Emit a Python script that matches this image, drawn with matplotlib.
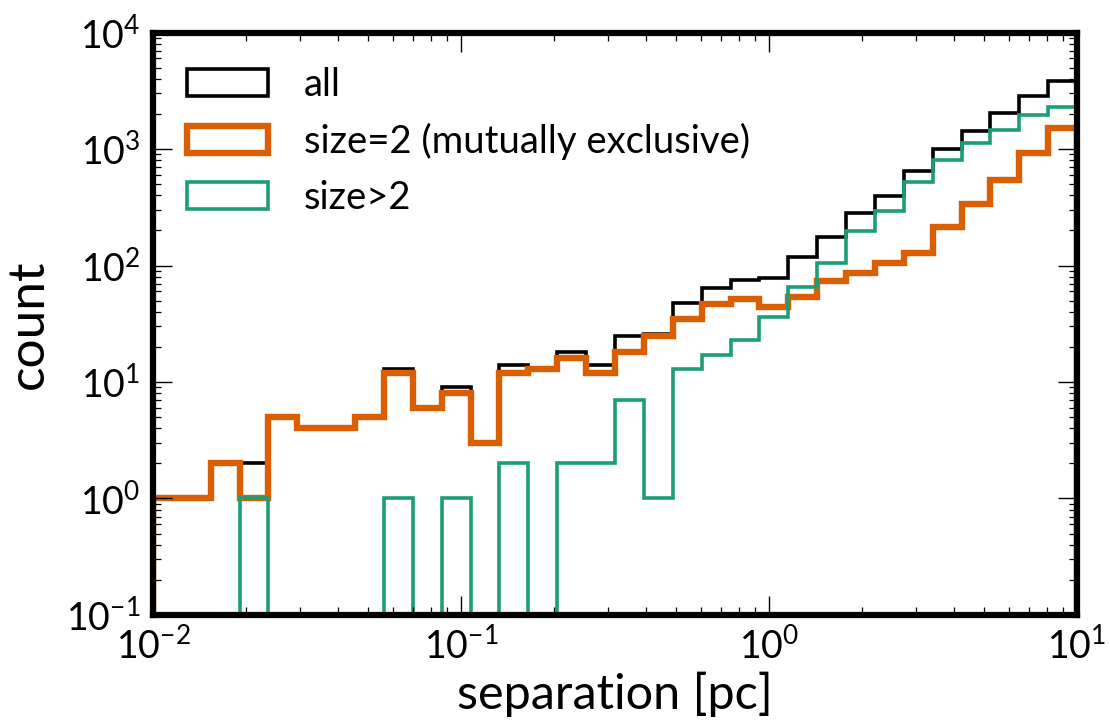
import numpy as np
import matplotlib
matplotlib.use('Agg')
import matplotlib.pyplot as plt
from matplotlib.patches import Patch

plt.rcParams['font.family'] = ['Lato', 'DejaVu Sans']
plt.rcParams['mathtext.fontset'] = 'custom'
plt.rcParams['mathtext.rm'] = 'Lato'
plt.rcParams['mathtext.it'] = 'Lato:italic'
plt.rcParams['mathtext.default'] = 'regular'

# ── Data: counts per log-spaced separation bin (10^-2 .. 10^1 pc, 32 bins) ──
bin_edges = np.logspace(-2, 1, 33)

count_all = [1, 1, 2, 2, 5, 4, 4, 5, 13, 6, 9, 3, 14, 13, 18, 14,
             25, 26, 48, 64, 75, 78, 119, 177, 281, 395, 648, 993,
             1428, 2024, 2850, 3837]
count_pair = [1, 1, 2, 1, 5, 4, 4, 5, 12, 6, 8, 3, 12, 13, 16, 12,
              18, 25, 35, 47, 52, 44, 54, 73, 87, 105, 127, 215,
              335, 542, 930, 1507]
count_multi = [0, 0, 0, 1, 0, 0, 0, 0, 1, 0, 1, 0, 2, 0, 2, 2,
               7, 1, 13, 17, 23, 36, 66, 106, 198, 294, 525, 805,
               1120, 1456, 1958, 2307]

labels = ['all', 'size=2 (mutually exclusive)', 'size>2']
colors = ['black', '#d95f02', '#1b9e77']
widths = [2.6, 4.6, 2.6]

fig = plt.figure(figsize=(11.1, 7.23), dpi=100)
ax = fig.add_axes([0.1378, 0.1494, 0.9703 - 0.1378, 0.955 - 0.1494])

for counts, c, lw in zip([count_all, count_pair, count_multi], colors, widths):
    ax.stairs(counts, bin_edges, baseline=0, color=c, lw=lw)

ax.set_xscale('log')
ax.set_yscale('log')
ax.set_xlim(1e-2, 1e1)
ax.set_ylim(1e-1, 1e4)

for spine in ax.spines.values():
    spine.set_linewidth(4.5)

ax.tick_params(which='major', direction='in', length=13.5, width=1.0,
               top=True, right=True, labelsize=27, pad=9)
ax.tick_params(which='minor', direction='in', length=6, width=0.9,
               top=True, right=True)

ax.set_xlabel('separation [pc]', fontsize=35, labelpad=4)
ax.set_ylabel('count', fontsize=37, labelpad=10)

handles = [Patch(facecolor='none', edgecolor=c, lw=lw) for c, lw in zip(colors, widths)]
ax.legend(handles, labels, loc='upper left', frameon=False, fontsize=27.5,
          handlelength=2.1, handleheight=0.7, handletextpad=0.95,
          labelspacing=0.52, borderaxespad=0.5)

fig.savefig('out.png', dpi=100, facecolor='white')
